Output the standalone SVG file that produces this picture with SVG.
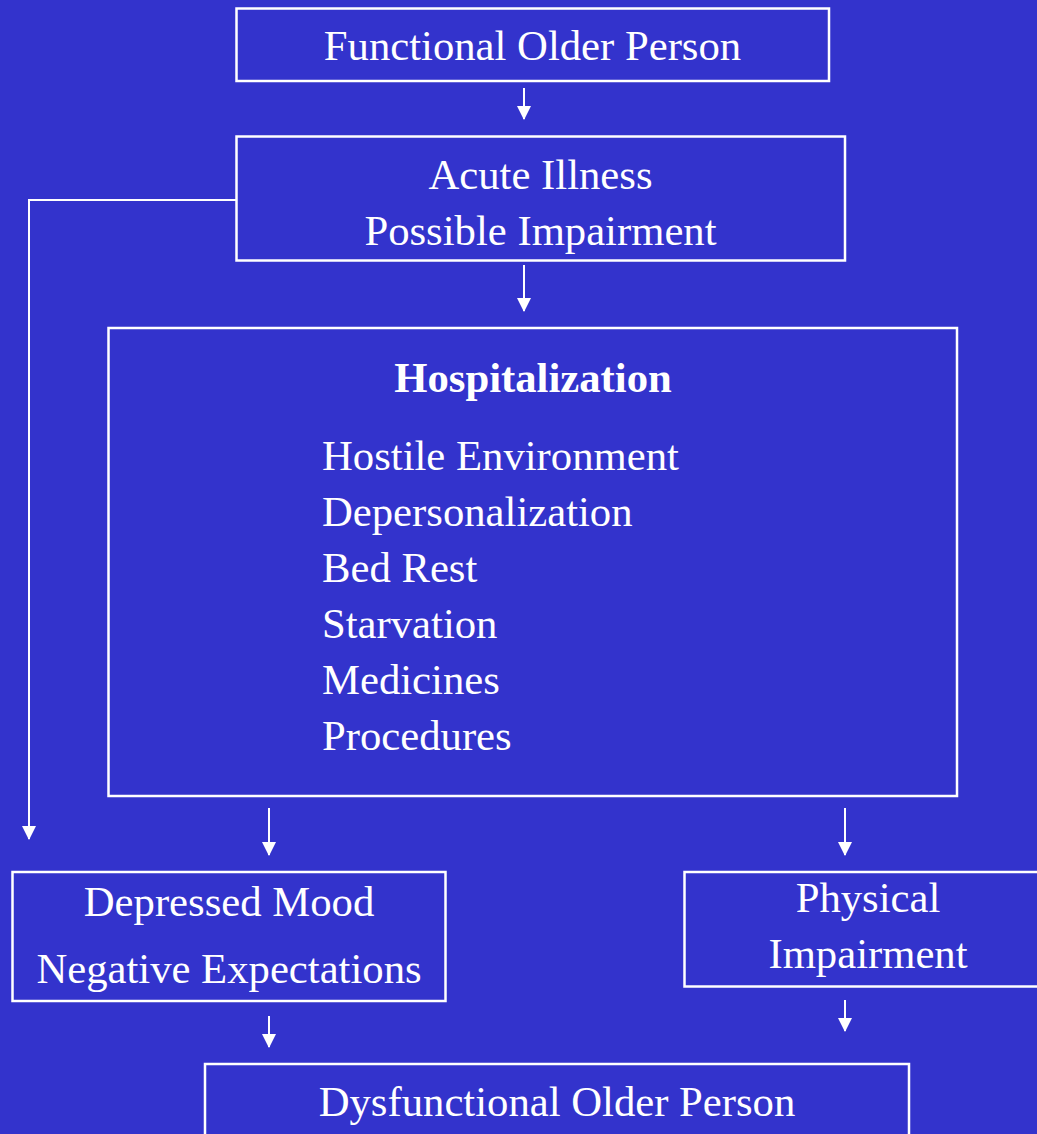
<svg xmlns="http://www.w3.org/2000/svg" width="1037" height="1134" viewBox="0 0 1037 1134">
  <defs>
    <marker id="arrowhead" markerUnits="userSpaceOnUse" markerWidth="14" markerHeight="14" refX="13" refY="7" orient="auto">
      <path d="M0,0 L14,7 L0,14 Z" fill="#ffffff"/>
    </marker>
    <style>
      .box { fill: none; stroke: #ffffff; stroke-width: 2.5; }
      .link { fill: none; stroke: #ffffff; stroke-width: 2; }
      .arrow { marker-end: url(#arrowhead); }
      text { font-family: "Liberation Serif", "Times New Roman", serif; font-size: 42.7px; fill: #ffffff; }
      .c { text-anchor: middle; }
      .b { font-weight: bold; }
    </style>
  </defs>

  <rect x="0" y="0" width="1037" height="1134" fill="#3333cc"/>

  <g id="connectors">
    <line class="link arrow" x1="524" y1="88" x2="524" y2="119"/>
    <line class="link arrow" x1="524" y1="265" x2="524" y2="311"/>
    <polyline class="link arrow" points="237,200 29,200 29,839"/>
    <line class="link arrow" x1="269" y1="808" x2="269" y2="855"/>
    <line class="link arrow" x1="845" y1="808" x2="845" y2="855"/>
    <line class="link arrow" x1="269" y1="1016" x2="269" y2="1047"/>
    <line class="link arrow" x1="845" y1="1000" x2="845" y2="1031"/>
  </g>

  <g id="functional-older-person">
    <rect class="box" x="236.5" y="8.5" width="592.5" height="72.5"/>
    <text class="c" x="532.5" y="60">Functional Older Person</text>
  </g>

  <g id="acute-illness">
    <rect class="box" x="236.5" y="136.5" width="608.5" height="124"/>
    <text class="c" x="540.5" y="189">Acute Illness</text>
    <text class="c" x="540.5" y="245">Possible Impairment</text>
  </g>

  <g id="hospitalization">
    <rect class="box" x="108.5" y="328" width="848.5" height="468"/>
    <text class="c b" x="533" y="392">Hospitalization</text>
    <text x="322" y="470">Hostile Environment</text>
    <text x="322" y="526">Depersonalization</text>
    <text x="322" y="582">Bed Rest</text>
    <text x="322" y="638">Starvation</text>
    <text x="322" y="694">Medicines</text>
    <text x="322" y="750">Procedures</text>
  </g>

  <g id="depressed-mood">
    <rect class="box" x="12.5" y="872" width="433" height="129"/>
    <text class="c" x="229" y="916">Depressed Mood</text>
    <text class="c" x="229" y="983">Negative Expectations</text>
  </g>

  <g id="physical-impairment">
    <rect class="box" x="684.5" y="872" width="380" height="114.5"/>
    <text class="c" x="868" y="912">Physical</text>
    <text class="c" x="868" y="968">Impairment</text>
  </g>

  <g id="dysfunctional-older-person">
    <rect class="box" x="205" y="1064" width="704" height="100"/>
    <text class="c" x="557" y="1116">Dysfunctional Older Person</text>
  </g>
</svg>
